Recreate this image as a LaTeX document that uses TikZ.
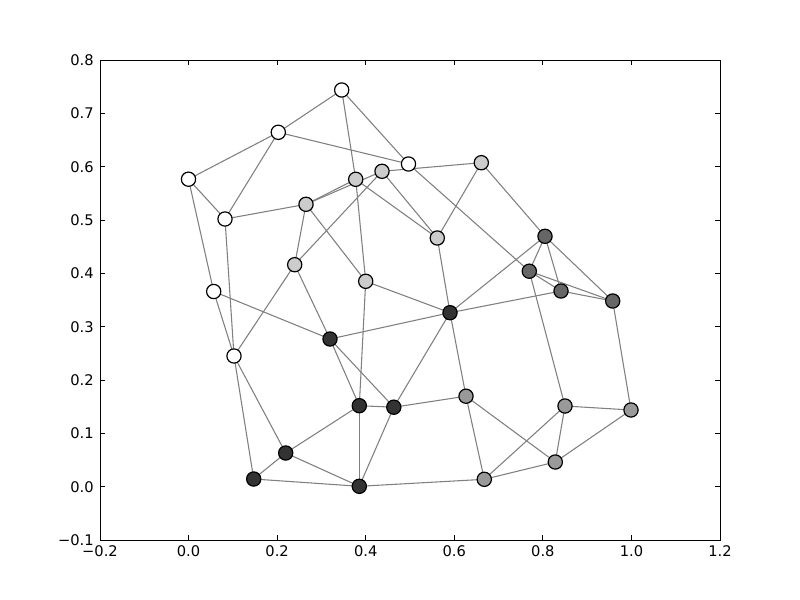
\documentclass[tikz,border=0pt]{standalone}
\usepackage{fontspec}
\setmainfont{DejaVu Sans}
\usetikzlibrary{backgrounds}
\begin{document}
\begin{tikzpicture}[x=0.75pt,y=-0.75pt,
  vtx/.style={circle,draw=black,line width=0.9pt,minimum size=10.7pt,inner sep=0pt},
  vwhite/.style={vtx,fill=white},
  vlight/.style={vtx,fill=black!20},
  vmid/.style={vtx,fill=black!40},
  vdark/.style={vtx,fill=black!60},
  vblack/.style={vtx,fill=black!80},
  gedge/.style={draw=black!50,line width=0.8pt},
  axframe/.style={draw=black,line width=0.75pt},
  tickmark/.style={draw=black,line width=0.6pt},
  ticklab/.style={font=\fontsize{11}{13}\selectfont,inner sep=0pt}]
\useasboundingbox (0,0) rectangle (800,600);
% axes frame
\draw[axframe] (100,60) rectangle (720,540);
% x ticks
\foreach \i/\lab in {0/{\char"2212 0.2},1/0.0,2/0.2,3/0.4,4/0.6,5/0.8,6/1.0,7/1.2} {
  \pgfmathsetmacro{\px}{100+\i*88.5714}
  \draw[tickmark] (\px,540) -- (\px,535);
  \draw[tickmark] (\px,60) -- (\px,65);
  \node[ticklab,anchor=north] (xl\i) at (\px,545.5) {\lab};
}
% y ticks
\foreach \i/\lab in {0/{\char"2212 0.1},1/0.0,2/0.1,3/0.2,4/0.3,5/0.4,6/0.5,7/0.6,8/0.7,9/0.8} {
  \pgfmathsetmacro{\py}{540-\i*53.3333}
  \draw[tickmark] (100,\py) -- (105,\py);
  \draw[tickmark] (720,\py) -- (715,\py);
  \node[ticklab,anchor=east] (yl\i) at (94,\py) {\lab};
}
% vertices
\node[vwhite] (W1) at (341.7,90) {};
\node[vwhite] (W2) at (278.3,132.3) {};
\node[vwhite] (W3) at (408.5,164) {};
\node[vwhite] (W4) at (188.5,179.2) {};
\node[vwhite] (W5) at (225,219) {};
\node[vwhite] (W6) at (213.7,291.5) {};
\node[vwhite] (W7) at (234,356) {};
\node[vlight] (L1) at (481.3,162.7) {};
\node[vlight] (L2) at (382,171.3) {};
\node[vlight] (L3) at (355.7,179.3) {};
\node[vlight] (L4) at (306,204.3) {};
\node[vlight] (L5) at (437.3,238) {};
\node[vlight] (L6) at (294.7,264.7) {};
\node[vlight] (L7) at (365.7,281.3) {};
\node[vdark] (D1) at (545,236.3) {};
\node[vdark] (D2) at (529.3,271.2) {};
\node[vdark] (D3) at (561,291) {};
\node[vdark] (D4) at (612.7,301) {};
\node[vblack] (K1) at (450,312.7) {};
\node[vblack] (K2) at (330,339) {};
\node[vblack] (K3) at (359.3,405.7) {};
\node[vblack] (K4) at (393.8,407.2) {};
\node[vblack] (K5) at (285.7,453) {};
\node[vblack] (K6) at (253.7,479) {};
\node[vblack] (K7) at (359.3,486.3) {};
\node[vmid] (M1) at (466,396.2) {};
\node[vmid] (M2) at (565,406) {};
\node[vmid] (M3) at (631,410) {};
\node[vmid] (M4) at (555.3,462) {};
\node[vmid] (M5) at (484.3,479.3) {};
% edges
\begin{pgfonlayer}{background}
\fill[white] (0,0) rectangle (800,600);
\foreach \a/\b in {W1/W2,W1/W3,W1/L3,W2/W3,W2/W4,W2/W5,W4/W5,W4/W6,W6/W7,W5/W7,
  W5/L4,L4/L3,L4/L2,L2/L1,W3/D2,L3/L7,L3/L5,L2/L5,L2/L6,L4/L6,L4/L7,L6/W7,L6/K2,
  W6/K2,K2/K1,L7/K1,L7/K3,K2/K3,K2/K4,K3/K4,K3/K5,K3/K7,K4/K7,K4/K1,K4/M1,K5/K6,
  K5/K7,K6/K7,W7/K6,W7/K5,L5/K1,L5/L1,L1/D1,K1/D1,K1/D3,K1/M1,D1/D2,D1/D3,D1/D4,
  D2/D3,D2/D4,D3/D4,D2/M2,D4/M3,M2/M3,M2/M4,M2/M5,M3/M4,M1/M4,M1/M5,M5/K7,M4/M5}
  \draw[gedge] (\a.center) -- (\b.center);
\end{pgfonlayer}
\end{tikzpicture}
\end{document}
